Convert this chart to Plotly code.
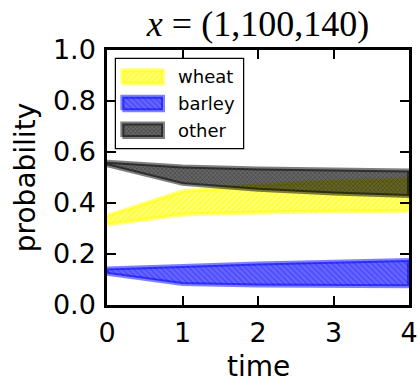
import plotly.graph_objects as go

time = [0, 1, 2, 3, 4]
wheat_lo = [0.316, 0.355, 0.363, 0.367, 0.370]
wheat_hi = [0.350, 0.446, 0.470, 0.485, 0.493]
barley_lo = [0.123, 0.082, 0.076, 0.075, 0.074]
barley_hi = [0.143, 0.154, 0.163, 0.170, 0.176]
other_lo = [0.548, 0.475, 0.452, 0.437, 0.427]
other_hi = [0.562, 0.543, 0.535, 0.530, 0.527]

# name, lower, upper, colour, hatch, fill alpha, hatch colour, hatch size
series = [
    ("wheat", wheat_lo, wheat_hi, (255, 255, 0), "/", 0.75, "rgba(255,255,190,0.7)", 4),
    ("barley", barley_lo, barley_hi, (0, 0, 255), "\\", 0.6, "rgba(0,0,255,0.35)", 4),
    ("other", other_lo, other_hi, (0, 0, 0), "x", 0.6, "rgba(0,0,0,0.45)", 3),
]

def rgba(c, a):
    return f"rgba({c[0]},{c[1]},{c[2]},{a})"

def pattern(col, hatch, a, fg, sz):
    return dict(shape=hatch, fgcolor=fg, bgcolor=rgba(col, a), size=sz,
                solidity=0.3, fillmode="replace")

fig = go.Figure()
for name, lo, hi, col, hatch, a, fg, sz in series:
    xs = list(time) + list(time[::-1]) + [time[0]]
    ys = list(hi) + list(lo[::-1]) + [hi[0]]
    fig.add_trace(go.Scatter(
        x=xs, y=ys, mode="lines", fill="toself",
        fillcolor=rgba(col, a),
        fillpattern=pattern(col, hatch, a, fg, sz),
        line=dict(color=rgba(col, 0.5), width=4),
        name=name, showlegend=False, hoverinfo="skip",
    ))

# custom legend drawn on an auxiliary axis
leg_y = [0.8, 0.5, 0.2]
for (name, lo, hi, col, hatch, a, fg, sz), yy in zip(series, leg_y):
    fig.add_trace(go.Scatter(
        x=[0.05, 0.37, 0.37, 0.05, 0.05], y=[yy - 0.075, yy - 0.075, yy + 0.075, yy + 0.075, yy - 0.075],
        xaxis="x2", yaxis="y2", mode="lines", fill="toself",
        fillcolor=rgba(col, a),
        fillpattern=pattern(col, hatch, a, fg, sz),
        line=dict(color=rgba(col, 0.5), width=4),
        showlegend=False, hoverinfo="skip",
    ))
    fig.add_annotation(x=0.47, y=yy, xref="x2", yref="y2", text=name, showarrow=False,
                       xanchor="left", yanchor="middle",
                       font=dict(family="DejaVu Sans", size=18, color="black"))

L, R, T, B = 107, 11, 50, 81
W, H = 420, 386
pw, ph = W - L - R, H - T - B
lx0, lx1 = (116 - L) / pw, (243 - L) / pw
ly0, ly1 = 1 - (148 - T) / ph, 1 - (59 - T) / ph

axis_common = dict(showline=True, linewidth=2.5, linecolor="black", mirror="ticks",
                   ticks="inside", ticklen=9, tickwidth=1.5, tickcolor="black",
                   showgrid=False, zeroline=False, automargin=False,
                   tickfont=dict(family="DejaVu Sans", size=27, color="black"))

fig.add_shape(type="rect", xref="paper", yref="paper", x0=lx0, x1=lx1, y0=ly0, y1=ly1,
              line=dict(color="black", width=2.5), fillcolor="white", layer="below")

# x-axis title placed as text below the tick labels, resting on the bottom edge
fig.add_annotation(x=0.5, y=-(H - 1 - (H - B)) / ph, xref="paper", yref="paper", text="time",
                   showarrow=False, xanchor="center", yanchor="bottom",
                   font=dict(family="DejaVu Sans", size=28, color="black"))

fig.update_layout(
    width=W, height=H,
    margin=dict(l=L, r=R, t=T, b=B, autoexpand=False),
    paper_bgcolor="white", plot_bgcolor="white",
    title=dict(text="<i>x</i> = (1,100,140)", x=0.5, xanchor="center", xref="paper",
               y=1 - 23 / H, yanchor="middle", automargin=False,
               font=dict(family="Liberation Serif", size=36, color="black")),
    xaxis=dict(range=[0, 4], tickvals=[0, 1, 2, 3, 4], ticktext=["0", "1", "2", "3", "4"],
               ticklabelstandoff=2,
               **axis_common),
    yaxis=dict(range=[0, 1], tickvals=[0, 0.2, 0.4, 0.6, 0.8, 1.0], tickformat=".1f",
               ticklabelstandoff=3,
               title=dict(text="probability", font=dict(family="DejaVu Sans", size=28, color="black"), standoff=10),
               **axis_common),
    xaxis2=dict(domain=[lx0, lx1], range=[0, 1], visible=False, anchor="y2", fixedrange=True),
    yaxis2=dict(domain=[ly0, ly1], range=[0, 1], visible=False, anchor="x2", fixedrange=True),
    showlegend=False,
)

fig.write_html("out.html")
